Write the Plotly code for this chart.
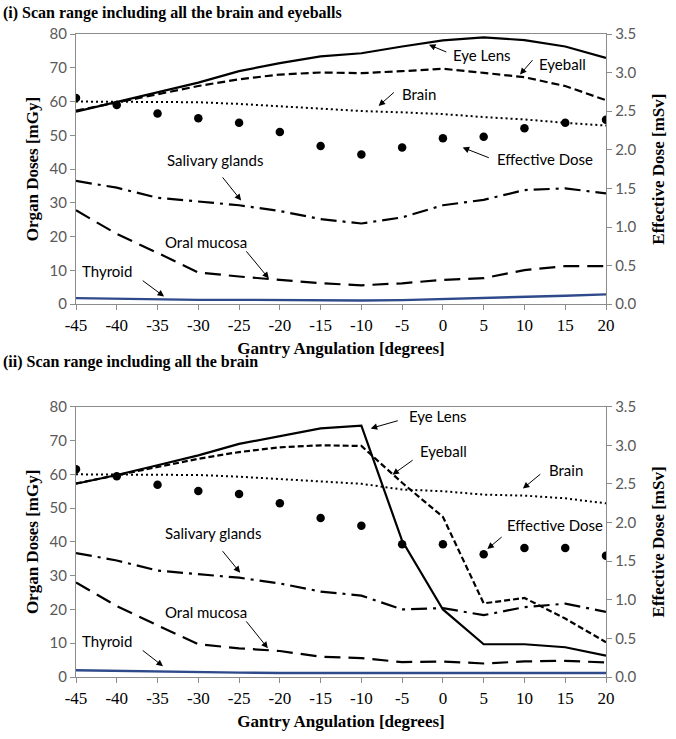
import plotly.graph_objects as go

angles = [-45, -40, -35, -30, -25, -20, -15, -10, -5, 0, 5, 10, 15, 20]

# Panel (i): scan range including all the brain and eyeballs
eye_lens_1 = [57.0, 59.8, 62.7, 65.6, 69.0, 71.4, 73.4, 74.3, 76.3, 78.1, 79.0, 78.2, 76.3, 72.9]
eyeball_1 = [57.3, 59.8, 62.2, 64.6, 66.6, 68.0, 68.6, 68.4, 69.0, 69.7, 68.5, 67.2, 64.6, 60.4]
brain_1 = [60.0, 60.0, 60.0, 59.8, 59.3, 58.6, 57.8, 57.2, 56.8, 56.3, 55.4, 54.7, 53.7, 52.9]
salivary_1 = [36.5, 34.5, 31.5, 30.3, 29.3, 27.6, 25.2, 23.9, 25.7, 29.3, 30.9, 33.8, 34.3, 32.8]
oral_1 = [27.8, 20.8, 15.2, 9.4, 8.2, 7.2, 6.2, 5.6, 6.2, 7.2, 7.7, 10.1, 11.3, 11.3]
thyroid_1 = [1.8, 1.6, 1.4, 1.3, 1.3, 1.2, 1.1, 1.1, 1.2, 1.5, 1.7, 2.1, 2.5, 2.9]
eff_dose_1 = [2.67, 2.58, 2.47, 2.41, 2.35, 2.23, 2.05, 1.94, 2.03, 2.15, 2.17, 2.28, 2.35, 2.39]

# Panel (ii): scan range including all the brain
eye_lens_2 = [57.2, 59.8, 62.7, 65.6, 69.0, 71.4, 73.6, 74.4, 40.3, 20.0, 9.7, 9.7, 8.8, 6.3]
eyeball_2 = [57.3, 59.8, 62.2, 64.6, 66.6, 68.0, 68.6, 68.4, 57.5, 47.4, 21.8, 23.4, 17.3, 10.3]
brain_2 = [60.0, 60.0, 60.0, 59.8, 59.3, 58.6, 57.9, 57.2, 55.5, 55.0, 54.0, 53.7, 52.9, 51.4]
salivary_2 = [36.7, 34.5, 31.5, 30.4, 29.4, 27.7, 25.3, 24.1, 20.0, 20.4, 18.3, 20.7, 21.7, 19.3]
oral_2 = [28.0, 21.0, 15.3, 9.7, 8.5, 7.7, 6.0, 5.6, 4.4, 4.6, 4.0, 4.6, 4.8, 4.3]
thyroid_2 = [2.0, 1.8, 1.5, 1.4, 1.3, 1.2, 1.2, 1.1, 1.0, 1.0, 1.0, 1.1, 1.2, 1.2]
eff_dose_2 = [2.69, 2.60, 2.49, 2.41, 2.37, 2.25, 2.06, 1.96, 1.72, 1.72, 1.59, 1.67, 1.67, 1.57]

left_ticks = [0, 10, 20, 30, 40, 50, 60, 70, 80]
right_ticks = [0.0, 0.5, 1.0, 1.5, 2.0, 2.5, 3.0, 3.5]
x_ticks = angles
x_ticktext = ["-45", "-40", "-35", "-30", "-25", "-20", "-15", "-10", "-5", "0", "5", "10", "15", "20"]

panel_titles = ["(i) Scan range including all the brain and eyeballs",
                "(ii) Scan range including all the brain"]

# label annotations: (text, text_x, text_y, tail_x, tail_y, head_x, head_y)
labels_1 = [
    ("Eye Lens", 4.84, 73.9, 0.6, 74.5, -1.71, 76.8),
    ("Eyeball", 14.67, 71.2, 11.15, 72.7, 9.45, 68.0),
    ("Brain", -2.92, 62.2, -5.83, 63.1, -7.89, 58.7),
    ("Effective Dose", 12.48, 42.9, 5.81, 43.2, 2.42, 46.4),
    ("Salivary glands", -27.9, 42.6, -27.17, 38.0, -24.75, 30.7),
    ("Oral mucosa", -29.11, 18.4, -24.26, 16.1, -21.35, 7.6),
    ("Thyroid", -41.24, 9.9, -37.0, 7.3, -34.2, 2.3),
]
labels_2 = [
    ("Eye Lens", -0.62, 77.2, -5.35, 76.0, -8.86, 73.6),
    ("Eyeball", 0.11, 66.9, -3.53, 64.5, -6.19, 59.9),
    ("Brain", 15.15, 61.3, 12.12, 60.4, 9.81, 55.8),
    ("Effective Dose", 13.7, 45.0, 7.39, 41.8, 5.45, 37.9),
    ("Salivary glands", -28.14, 42.6, -27.17, 37.7, -24.87, 30.9),
    ("Oral mucosa", -29.11, 19.3, -24.26, 16.9, -21.47, 8.5),
    ("Thyroid", -41.24, 10.8, -37.0, 8.2, -34.33, 3.2),
]

fig = go.Figure()

def add_panel(xa, ya, ya2, el, eb, br, sg, om, th, ed, eb_dash):
    common = dict(x=angles, xaxis=xa, yaxis=ya, mode="lines", showlegend=False)
    fig.add_trace(go.Scatter(y=sg, line=dict(color="black", width=2.2, dash="16px,6px,3px,6px"), **common))
    fig.add_trace(go.Scatter(y=om, line=dict(color="black", width=2.2, dash="16px,8px"), **common))
    fig.add_trace(go.Scatter(y=th, line=dict(color="#2E4A8B", width=2.4), **common))
    fig.add_trace(go.Scatter(y=br, line=dict(color="black", width=2, dash="2px,3px"), **common))
    fig.add_trace(go.Scatter(y=eb, line=dict(color="black", width=2.2, dash=eb_dash), **common))
    fig.add_trace(go.Scatter(y=el, line=dict(color="black", width=2.2), **common))
    fig.add_trace(go.Scatter(x=angles, y=ed, xaxis=xa, yaxis=ya2, mode="markers",
                             marker=dict(color="black", size=8.5), showlegend=False))

add_panel("x", "y", "y2", eye_lens_1, eyeball_1, brain_1, salivary_1, oral_1, thyroid_1, eff_dose_1, "8px,4px")
add_panel("x2", "y3", "y4", eye_lens_2, eyeball_2, brain_2, salivary_2, oral_2, thyroid_2, eff_dose_2, "6px,3px")

axis_line = "#8C8C8C"
tick_font_left = dict(family="Lato, Open Sans, sans-serif", size=15, color="#595959")
tick_font_x = dict(family="Liberation Serif", size=17, color="black")
title_font = dict(family="Liberation Serif", size=17, color="black", weight="bold")

top_dom = [1 - 274 / 652, 1.0]
bot_dom = [0.0, 274 / 652]

xcommon = dict(range=[-45, 20], tickvals=x_ticks, ticktext=x_ticktext, ticks="outside", ticklen=5,
               tickcolor=axis_line, showline=True, linecolor=axis_line, linewidth=1.3, mirror=True,
               showgrid=False, zeroline=False, tickfont=tick_font_x,
               title=dict(text="Gantry Angulation [degrees]", font=title_font, standoff=8))
ylcommon = dict(range=[0, 80], tickvals=left_ticks, ticks="outside", ticklen=5, tickcolor=axis_line,
                showline=True, linecolor=axis_line, linewidth=1.3, showgrid=False, zeroline=False,
                tickfont=tick_font_left,
                title=dict(text="Organ Doses [mGy]", font=title_font, standoff=6))
yrcommon = dict(range=[0, 3.5], tickvals=right_ticks, tickformat=".1f", ticks="outside", ticklen=5,
                tickcolor=axis_line, side="right", showline=True, linecolor=axis_line, linewidth=1.3,
                showgrid=False, zeroline=False, tickfont=tick_font_left,
                title=dict(text="Effective Dose [mSv]", font=title_font, standoff=16))

fig.update_layout(
    width=676, height=739,
    margin=dict(l=76, r=64, t=34, b=53),
    paper_bgcolor="white", plot_bgcolor="white",
    xaxis=dict(domain=[0, 1], anchor="y", **xcommon),
    yaxis=dict(domain=top_dom, anchor="x", **ylcommon),
    yaxis2=dict(overlaying="y", anchor="x", **yrcommon),
    xaxis2=dict(domain=[0, 1], anchor="y3", **xcommon),
    yaxis3=dict(domain=bot_dom, anchor="x2", **ylcommon),
    yaxis4=dict(overlaying="y3", anchor="x2", **yrcommon),
)

label_font = dict(family="Lato, Open Sans, sans-serif", size=15, color="black")
annotations = []
for labels, xr, yr in [(labels_1, "x", "y"), (labels_2, "x2", "y3")]:
    for text, tx, ty, ax_, ay_, hx, hy in labels:
        annotations.append(dict(x=tx, y=ty, xref=xr, yref=yr, text=text, showarrow=False, font=label_font))
        annotations.append(dict(x=hx, y=hy, xref=xr, yref=yr, ax=ax_, ay=ay_, axref=xr, ayref=yr,
                                text="", showarrow=True, arrowhead=2, arrowsize=1.3, arrowwidth=1,
                                arrowcolor="black"))

pt_font = dict(family="Liberation Serif", size=16, color="black", weight="bold")
for title, py in [(panel_titles[0], 13), (panel_titles[1], 367)]:
    annotations.append(dict(x=-76 / 536, y=1 - (py - 34) / 652, xref="paper", yref="paper",
                            xanchor="left", yanchor="middle", text=title, showarrow=False, font=pt_font))
fig.update_layout(annotations=annotations)

fig.write_html("out.html")
